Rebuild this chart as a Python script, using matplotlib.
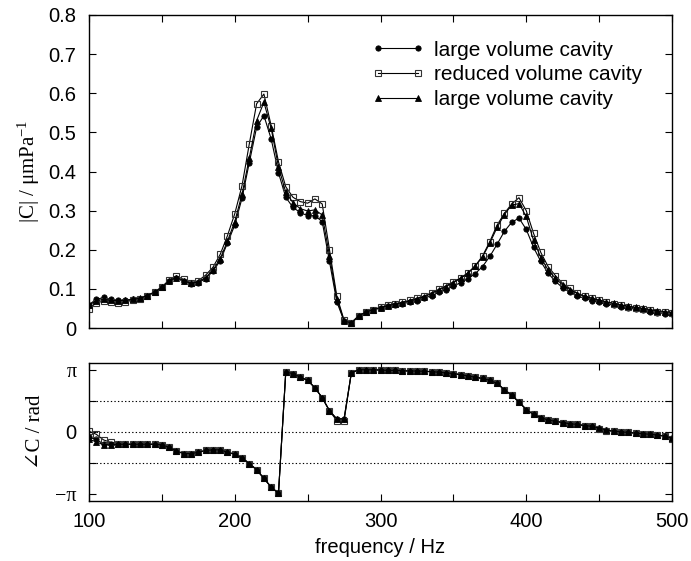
import numpy as np
import matplotlib
matplotlib.use("Agg")
import matplotlib.pyplot as plt
from matplotlib.ticker import MultipleLocator, FixedLocator, FuncFormatter, NullFormatter

plt.rcParams['font.family'] = ['Liberation Sans', 'DejaVu Sans']
plt.rcParams['mathtext.fontset'] = 'custom'
plt.rcParams['mathtext.rm'] = 'Liberation Serif'
plt.rcParams['mathtext.it'] = 'Liberation Serif:italic'

# Measurement frequencies (Hz)
freq = list(range(100, 505, 5))

# |C| in um/Pa
mag_large_a = [
    0.060, 0.073, 0.078, 0.073, 0.071, 0.071, 0.073, 0.075, 0.082, 0.091,
    0.104, 0.120, 0.127, 0.119, 0.113, 0.116, 0.126, 0.145, 0.172, 0.217,
    0.263, 0.332, 0.423, 0.513, 0.543, 0.483, 0.397, 0.334, 0.308, 0.295,
    0.287, 0.287, 0.272, 0.170, 0.067, 0.018, 0.014, 0.031, 0.040, 0.046,
    0.051, 0.055, 0.059, 0.062, 0.066, 0.070, 0.076, 0.083, 0.091, 0.098,
    0.107, 0.116, 0.126, 0.139, 0.157, 0.183, 0.214, 0.247, 0.270, 0.281,
    0.252, 0.206, 0.170, 0.140, 0.119, 0.103, 0.091, 0.082, 0.076, 0.070,
    0.066, 0.062, 0.058, 0.054, 0.051, 0.048, 0.045, 0.041, 0.039, 0.037,
    0.036,
]
mag_reduced = [
    0.048, 0.065, 0.068, 0.066, 0.065, 0.067, 0.071, 0.075, 0.083, 0.092,
    0.105, 0.123, 0.133, 0.124, 0.116, 0.121, 0.135, 0.155, 0.188, 0.236,
    0.292, 0.364, 0.471, 0.573, 0.598, 0.517, 0.425, 0.361, 0.334, 0.323,
    0.319, 0.330, 0.317, 0.200, 0.082, 0.020, 0.012, 0.030, 0.040, 0.047,
    0.053, 0.058, 0.062, 0.066, 0.071, 0.076, 0.082, 0.090, 0.099, 0.108,
    0.118, 0.128, 0.141, 0.159, 0.184, 0.221, 0.263, 0.293, 0.317, 0.333,
    0.300, 0.242, 0.193, 0.157, 0.134, 0.114, 0.101, 0.089, 0.081, 0.076,
    0.071, 0.066, 0.062, 0.058, 0.054, 0.051, 0.048, 0.045, 0.042, 0.040,
    0.038,
]
mag_large_b = [
    0.058, 0.070, 0.073, 0.071, 0.070, 0.071, 0.073, 0.076, 0.083, 0.092,
    0.104, 0.121, 0.129, 0.121, 0.114, 0.118, 0.129, 0.148, 0.177, 0.222,
    0.272, 0.342, 0.435, 0.530, 0.577, 0.510, 0.412, 0.347, 0.320, 0.305,
    0.299, 0.302, 0.289, 0.185, 0.075, 0.018, 0.013, 0.031, 0.041, 0.047,
    0.052, 0.057, 0.061, 0.065, 0.069, 0.074, 0.080, 0.088, 0.097, 0.106,
    0.116, 0.127, 0.140, 0.158, 0.182, 0.217, 0.257, 0.290, 0.314, 0.318,
    0.285, 0.224, 0.180, 0.148, 0.127, 0.110, 0.098, 0.088, 0.081, 0.076,
    0.071, 0.067, 0.063, 0.059, 0.056, 0.053, 0.050, 0.047, 0.044, 0.042,
    0.040,
]

# Phase of C, in units of pi
phase_large_a = [
    -0.09, -0.12, -0.20, -0.20, -0.20, -0.20, -0.20, -0.20, -0.20, -0.20,
    -0.21, -0.25, -0.31, -0.35, -0.35, -0.33, -0.30, -0.29, -0.29, -0.33,
    -0.36, -0.42, -0.51, -0.61, -0.75, -0.89, -0.99, 0.96, 0.94, 0.88,
    0.83, 0.71, 0.55, 0.34, 0.21, 0.21, 0.95, 1.00, 1.00, 1.00,
    0.995, 0.99, 0.99, 0.985, 0.98, 0.98, 0.975, 0.97, 0.96, 0.95,
    0.94, 0.92, 0.90, 0.88, 0.86, 0.83, 0.78, 0.68, 0.59, 0.48,
    0.36, 0.28, 0.23, 0.19, 0.17, 0.15, 0.13, 0.12, 0.10, 0.09,
    0.06, 0.03, 0.01, 0.00, -0.01, -0.02, -0.03, -0.04, -0.05, -0.07,
    -0.10,
]
phase_reduced = [
    0.01, -0.04, -0.13, -0.17, -0.19, -0.20, -0.20, -0.20, -0.20, -0.20,
    -0.21, -0.25, -0.31, -0.35, -0.35, -0.33, -0.30, -0.29, -0.29, -0.33,
    -0.36, -0.42, -0.51, -0.61, -0.75, -0.89, -0.99, 0.96, 0.94, 0.88,
    0.83, 0.71, 0.55, 0.34, 0.18, 0.18, 0.95, 1.00, 1.00, 1.00,
    0.995, 0.99, 0.99, 0.985, 0.98, 0.98, 0.975, 0.97, 0.96, 0.95,
    0.94, 0.92, 0.90, 0.88, 0.86, 0.83, 0.78, 0.68, 0.59, 0.48,
    0.36, 0.28, 0.23, 0.19, 0.17, 0.15, 0.13, 0.12, 0.10, 0.09,
    0.05, 0.02, 0.01, 0.00, -0.01, -0.02, -0.03, -0.04, -0.05, -0.07,
    -0.11,
]
phase_large_b = [
    -0.12, -0.16, -0.21, -0.21, -0.20, -0.20, -0.20, -0.20, -0.20, -0.20,
    -0.21, -0.25, -0.31, -0.35, -0.35, -0.33, -0.30, -0.29, -0.29, -0.33,
    -0.36, -0.42, -0.51, -0.61, -0.75, -0.89, -0.99, 0.96, 0.94, 0.88,
    0.83, 0.71, 0.55, 0.34, 0.21, 0.21, 0.95, 1.00, 1.00, 1.00,
    0.995, 0.99, 0.99, 0.985, 0.98, 0.98, 0.975, 0.97, 0.96, 0.95,
    0.94, 0.92, 0.90, 0.88, 0.86, 0.83, 0.78, 0.68, 0.59, 0.48,
    0.36, 0.28, 0.23, 0.19, 0.17, 0.15, 0.13, 0.12, 0.10, 0.09,
    0.06, 0.03, 0.01, 0.00, -0.01, -0.02, -0.03, -0.04, -0.05, -0.07,
    -0.10,
]

labels = ["large volume cavity", "reduced volume cavity", "large volume cavity"]
phase_ticks = [-np.pi, -np.pi / 2, 0, np.pi / 2, np.pi]
phase_ticklabels = ["\u2212\u03c0", "", "0", "", "\u03c0"]

W, H = 691, 561
fig = plt.figure(figsize=(W / 100, H / 100), dpi=100)
ax1 = fig.add_axes([89 / W, 1 - 328 / H, (672 - 89) / W, (328 - 15) / H])
ax2 = fig.add_axes([89 / W, 1 - 501 / H, (672 - 89) / W, (501 - 362.7) / H])

styles = [
    dict(marker='o', ms=3.8, mfc='black', mec='black', mew=0.6),
    dict(marker='s', ms=4.4, mfc='none', mec='#333333', mew=0.8),
    dict(marker='^', ms=4.6, mfc='black', mec='black', mew=0.6),
]

for vals, lab, st in zip([mag_large_a, mag_reduced, mag_large_b], labels, styles):
    ax1.plot(freq, vals, color='black', lw=0.8, label=lab, **st)

for vals, st in zip([phase_large_a, phase_reduced, phase_large_b], styles):
    ax2.plot(freq, np.pi * np.asarray(vals), color='black', lw=0.8, **st)

# dotted reference lines in the phase panel
for yv in [-np.pi / 2, 0, np.pi / 2]:
    ax2.axhline(yv, color='black', lw=0.8, ls=(0, (1.2, 2.0)), zorder=0)

TICK_FS = 14.5
for ax in (ax1, ax2):
    ax.set_xlim(100, 500)
    ax.tick_params(which='both', direction='in', top=True, right=True,
                   length=5, width=0.8, labelsize=TICK_FS, pad=8)
    for sp in ax.spines.values():
        sp.set_linewidth(1.0)

ax1.set_ylim(0, 0.8)
ax1.xaxis.set_major_locator(MultipleLocator(50))
ax1.xaxis.set_major_formatter(NullFormatter())
ax1.yaxis.set_major_locator(MultipleLocator(0.1))
ax1.yaxis.set_major_formatter(FuncFormatter(lambda v, p: "0" if abs(v) < 1e-9 else f"{v:.1f}"))
ax1.tick_params(axis='y', pad=9)
ax1.set_ylabel(r"$\mathrm{|C|\ /\ \mu mPa}^{-1}$", fontsize=15, labelpad=5)

ax2.set_ylim(-3.5, 3.5)
ax2.xaxis.set_major_locator(MultipleLocator(100))
ax2.xaxis.set_minor_locator(MultipleLocator(50))
ax2.yaxis.set_major_locator(FixedLocator(phase_ticks))
ax2.set_yticklabels(phase_ticklabels)
for t in ax2.get_yticklabels():
    if t.get_text() != "0":
        t.set_fontfamily(['Liberation Serif', 'DejaVu Serif'])
ax2.tick_params(axis='y', pad=9)
ax2.set_ylabel("\u2220C / rad", fontsize=15, labelpad=7,
               family=['Liberation Serif', 'DejaVu Serif', 'DejaVu Sans'])
ax2.set_xlabel("frequency / Hz", fontsize=TICK_FS, labelpad=5)

ax1.legend(loc='upper left', bbox_to_anchor=(0.485, 0.918), frameon=False,
           numpoints=2, handlelength=2.5, handletextpad=0.5,
           labelspacing=0.28, fontsize=15, borderaxespad=0, borderpad=0)

fig.savefig("out.png", dpi=100)
